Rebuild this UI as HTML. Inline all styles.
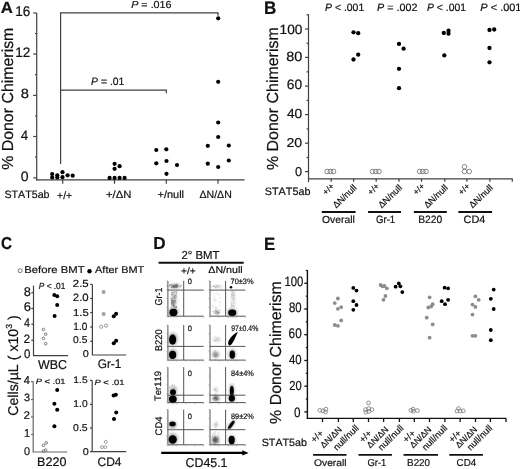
<!DOCTYPE html>
<html><head><meta charset="utf-8"><style>
html,body{margin:0;padding:0;background:#fff;}
svg{display:block;}
text{font-family:"Liberation Sans",sans-serif;font-kerning:none;text-rendering:geometricPrecision;stroke:#111;stroke-width:0.2px;}
svg{filter:grayscale(1) blur(0.3px);}
</style></head><body>
<svg width="520" height="469" viewBox="0 0 520 469">
<rect width="520" height="469" fill="#fff"/>
<text transform="translate(0.822,12.500) scale(1.0490,1.0111)" font-size="16" fill="#111" ><tspan font-weight="bold">A</tspan></text>
<line x1="36.7" y1="13" x2="36.7" y2="180.4" stroke="#404040" stroke-width="1.2"/>
<line x1="33.2" y1="13" x2="36.7" y2="13" stroke="#404040" stroke-width="1.2"/>
<line x1="33.2" y1="54" x2="36.7" y2="54" stroke="#404040" stroke-width="1.2"/>
<line x1="33.2" y1="95.4" x2="36.7" y2="95.4" stroke="#404040" stroke-width="1.2"/>
<line x1="33.2" y1="136.5" x2="36.7" y2="136.5" stroke="#404040" stroke-width="1.2"/>
<line x1="33.2" y1="177.9" x2="36.7" y2="177.9" stroke="#404040" stroke-width="1.2"/>
<line x1="35" y1="33.5" x2="36.7" y2="33.5" stroke="#404040" stroke-width="1.2"/>
<line x1="35" y1="74.7" x2="36.7" y2="74.7" stroke="#404040" stroke-width="1.2"/>
<line x1="35" y1="116" x2="36.7" y2="116" stroke="#404040" stroke-width="1.2"/>
<line x1="35" y1="157.2" x2="36.7" y2="157.2" stroke="#404040" stroke-width="1.2"/>
<text transform="translate(15.171,16.362) scale(1.0004,1.0462)" font-size="13.5" fill="#111" >16</text>
<text transform="translate(15.265,57.400) scale(1.0068,1.0184)" font-size="13.5" fill="#111" >12</text>
<text transform="translate(20.661,98.469) scale(1.0892,0.9939)" font-size="13.5" fill="#111" >8</text>
<text transform="translate(20.795,139.700) scale(0.9849,1.0013)" font-size="13.5" fill="#111" >4</text>
<text transform="translate(20.853,181.366) scale(1.0382,1.0148)" font-size="13.5" fill="#111" >0</text>
<text transform="translate(12.945,169.867) rotate(-90) scale(1.0005,1.0005)" font-size="15.9" fill="#111" >% Donor Chimerism</text>
<line x1="36.1" y1="179.8" x2="244.5" y2="179.8" stroke="#404040" stroke-width="1.2"/>
<line x1="62.7" y1="179.8" x2="62.7" y2="183.8" stroke="#404040" stroke-width="1.2"/>
<line x1="114.5" y1="179.8" x2="114.5" y2="183.8" stroke="#404040" stroke-width="1.2"/>
<line x1="166.3" y1="179.8" x2="166.3" y2="183.8" stroke="#404040" stroke-width="1.2"/>
<line x1="218" y1="179.8" x2="218" y2="183.8" stroke="#404040" stroke-width="1.2"/>
<line x1="60.6" y1="12.9" x2="60.6" y2="164" stroke="#404040" stroke-width="1.2"/>
<line x1="60" y1="12.9" x2="218.6" y2="12.9" stroke="#404040" stroke-width="1.2"/>
<line x1="218" y1="12.9" x2="218" y2="15.8" stroke="#404040" stroke-width="1.2"/>
<line x1="60.6" y1="90.2" x2="166.9" y2="90.2" stroke="#404040" stroke-width="1.2"/>
<line x1="166.3" y1="90.2" x2="166.3" y2="93.2" stroke="#404040" stroke-width="1.2"/>
<text transform="translate(131.169,8.401) scale(0.9787,0.9245)" font-size="11" fill="#111" ><tspan font-style="italic">P</tspan> = .016</text>
<text transform="translate(91.079,85.297) scale(0.9478,0.9630)" font-size="11" fill="#111" ><tspan font-style="italic">P</tspan> = .01</text>
<text transform="translate(4.415,198.296) scale(0.9713,0.9656)" font-size="11" fill="#111" >STAT5ab</text>
<text transform="translate(57.093,198.596) scale(0.9444,0.9656)" font-size="11" fill="#111" >+/+</text>
<text transform="translate(105.948,198.398) scale(1.0284,0.9532)" font-size="11" fill="#111" >+/ΔN</text>
<text transform="translate(157.464,198.398) scale(0.9988,0.9532)" font-size="11" fill="#111" >+/null</text>
<text transform="translate(199.486,198.398) scale(0.9594,0.9532)" font-size="11" fill="#111" >ΔN/ΔN</text>
<circle cx="52.2" cy="174" r="2.1" fill="#000"/>
<circle cx="52.2" cy="177.4" r="2.1" fill="#000"/>
<circle cx="57.3" cy="175.3" r="2.1" fill="#000"/>
<circle cx="57.3" cy="177.5" r="2.1" fill="#000"/>
<circle cx="62.5" cy="172.2" r="2.1" fill="#000"/>
<circle cx="62.5" cy="177.2" r="2.1" fill="#000"/>
<circle cx="67.6" cy="175.3" r="2.1" fill="#000"/>
<circle cx="72.7" cy="175.7" r="2.1" fill="#000"/>
<circle cx="114.6" cy="163.8" r="2.1" fill="#000"/>
<circle cx="119.6" cy="166.2" r="2.1" fill="#000"/>
<circle cx="114.6" cy="168.8" r="2.1" fill="#000"/>
<circle cx="109.6" cy="177.9" r="2.1" fill="#000"/>
<circle cx="114.6" cy="177.9" r="2.1" fill="#000"/>
<circle cx="119.6" cy="177.9" r="2.1" fill="#000"/>
<circle cx="124.6" cy="177.9" r="2.1" fill="#000"/>
<circle cx="156.3" cy="150" r="2.1" fill="#000"/>
<circle cx="166.3" cy="149.3" r="2.1" fill="#000"/>
<circle cx="156.3" cy="163.3" r="2.1" fill="#000"/>
<circle cx="166.5" cy="161" r="2.1" fill="#000"/>
<circle cx="177" cy="165" r="2.1" fill="#000"/>
<circle cx="166.5" cy="173.8" r="2.1" fill="#000"/>
<circle cx="218.2" cy="18.3" r="2.1" fill="#000"/>
<circle cx="218.2" cy="81.8" r="2.1" fill="#000"/>
<circle cx="218.2" cy="122.5" r="2.1" fill="#000"/>
<circle cx="218.2" cy="137" r="2.1" fill="#000"/>
<circle cx="207.8" cy="145.8" r="2.1" fill="#000"/>
<circle cx="228.8" cy="145.5" r="2.1" fill="#000"/>
<circle cx="207.8" cy="163.7" r="2.1" fill="#000"/>
<circle cx="218.2" cy="167" r="2.1" fill="#000"/>
<circle cx="228.8" cy="160.5" r="2.1" fill="#000"/>
<text transform="translate(264.059,13.600) scale(1.0658,1.1310)" font-size="16" fill="#111" ><tspan font-weight="bold">B</tspan></text>
<line x1="308.5" y1="14.3" x2="308.5" y2="182.2" stroke="#404040" stroke-width="1.2"/>
<line x1="305" y1="29.0" x2="308.5" y2="29.0" stroke="#404040" stroke-width="1.2"/>
<line x1="305" y1="57.4" x2="308.5" y2="57.4" stroke="#404040" stroke-width="1.2"/>
<line x1="305" y1="86.1" x2="308.5" y2="86.1" stroke="#404040" stroke-width="1.2"/>
<line x1="305" y1="114.6" x2="308.5" y2="114.6" stroke="#404040" stroke-width="1.2"/>
<line x1="305" y1="143.2" x2="308.5" y2="143.2" stroke="#404040" stroke-width="1.2"/>
<line x1="305" y1="171.6" x2="308.5" y2="171.6" stroke="#404040" stroke-width="1.2"/>
<line x1="306.6" y1="14.719999999999999" x2="308.5" y2="14.719999999999999" stroke="#404040" stroke-width="1.2"/>
<line x1="306.6" y1="43.28" x2="308.5" y2="43.28" stroke="#404040" stroke-width="1.2"/>
<line x1="306.6" y1="71.84000000000002" x2="308.5" y2="71.84000000000002" stroke="#404040" stroke-width="1.2"/>
<line x1="306.6" y1="100.4" x2="308.5" y2="100.4" stroke="#404040" stroke-width="1.2"/>
<line x1="306.6" y1="128.96" x2="308.5" y2="128.96" stroke="#404040" stroke-width="1.2"/>
<line x1="306.6" y1="157.52" x2="308.5" y2="157.52" stroke="#404040" stroke-width="1.2"/>
<text transform="translate(279.560,34.469) scale(0.9963,0.9794)" font-size="13.7" fill="#111" >100</text>
<text transform="translate(286.271,60.569) scale(1.0561,0.9794)" font-size="13.7" fill="#111" >80</text>
<text transform="translate(286.800,89.266) scale(1.0066,1.0000)" font-size="13.7" fill="#111" >60</text>
<text transform="translate(286.885,118.070) scale(1.0008,0.9691)" font-size="13.7" fill="#111" >40</text>
<text transform="translate(286.487,146.874) scale(1.0346,0.9382)" font-size="13.7" fill="#111" >20</text>
<text transform="translate(295.102,175.774) scale(0.9314,0.9382)" font-size="13.7" fill="#111" >0</text>
<text transform="translate(278.144,170.069) rotate(-90) scale(0.9978,0.9978)" font-size="16" fill="#111" >% Donor Chimerism</text>
<line x1="308" y1="178.8" x2="512.5" y2="178.8" stroke="#404040" stroke-width="1.2"/>
<line x1="331.2" y1="178.8" x2="331.2" y2="181.8" stroke="#404040" stroke-width="1.2"/>
<line x1="353.6" y1="178.8" x2="353.6" y2="181.8" stroke="#404040" stroke-width="1.2"/>
<line x1="376.2" y1="178.8" x2="376.2" y2="181.8" stroke="#404040" stroke-width="1.2"/>
<line x1="399" y1="178.8" x2="399" y2="181.8" stroke="#404040" stroke-width="1.2"/>
<line x1="421.5" y1="178.8" x2="421.5" y2="181.8" stroke="#404040" stroke-width="1.2"/>
<line x1="444.8" y1="178.8" x2="444.8" y2="181.8" stroke="#404040" stroke-width="1.2"/>
<line x1="466.9" y1="178.8" x2="466.9" y2="181.8" stroke="#404040" stroke-width="1.2"/>
<line x1="489.9" y1="178.8" x2="489.9" y2="181.8" stroke="#404040" stroke-width="1.2"/>
<line x1="512.3" y1="178.8" x2="512.3" y2="181.8" stroke="#404040" stroke-width="1.2"/>
<text transform="translate(325.079,10.795) scale(0.9479,0.9758)" font-size="11" fill="#111" ><tspan font-style="italic">P</tspan> &lt; .001</text>
<text transform="translate(377.069,10.795) scale(0.9779,0.9758)" font-size="11" fill="#111" ><tspan font-style="italic">P</tspan> = .002</text>
<text transform="translate(426.980,10.795) scale(0.9454,0.9758)" font-size="11" fill="#111" ><tspan font-style="italic">P</tspan> &lt; .001</text>
<text transform="translate(480.363,10.795) scale(0.9949,0.9758)" font-size="11" fill="#111" ><tspan font-style="italic">P</tspan> &lt; .001</text>
<text transform="translate(264.809,195.095) scale(0.9823,0.9779)" font-size="11" fill="#111" >STAT5ab</text>
<text transform="translate(334.900,186.700) rotate(-45)" font-size="8.6" text-anchor="end" fill="#111" >+/+</text>
<text transform="translate(357.200,188.400) rotate(-44)" font-size="9.0" text-anchor="end" fill="#111" >ΔN/null</text>
<text transform="translate(379.900,186.700) rotate(-45)" font-size="8.6" text-anchor="end" fill="#111" >+/+</text>
<text transform="translate(402.600,188.400) rotate(-44)" font-size="9.0" text-anchor="end" fill="#111" >ΔN/null</text>
<text transform="translate(425.200,186.700) rotate(-45)" font-size="8.6" text-anchor="end" fill="#111" >+/+</text>
<text transform="translate(448.400,188.400) rotate(-44)" font-size="9.0" text-anchor="end" fill="#111" >ΔN/null</text>
<text transform="translate(470.600,186.700) rotate(-45)" font-size="8.6" text-anchor="end" fill="#111" >+/+</text>
<text transform="translate(493.500,188.400) rotate(-44)" font-size="9.0" text-anchor="end" fill="#111" >ΔN/null</text>
<line x1="321.8" y1="212" x2="355.6" y2="212" stroke="#111" stroke-width="1.9"/>
<text transform="translate(321.908,223.400) scale(1.0080,0.9915)" font-size="10.3" fill="#111" >Overall</text>
<line x1="368.1" y1="212" x2="401" y2="212" stroke="#111" stroke-width="1.9"/>
<text transform="translate(376.018,223.397) scale(0.9296,1.0285)" font-size="10.3" fill="#111" >Gr-1</text>
<line x1="413.9" y1="212" x2="446.8" y2="212" stroke="#111" stroke-width="1.9"/>
<text transform="translate(418.255,223.397) scale(0.9997,1.0285)" font-size="10.3" fill="#111" >B220</text>
<line x1="458.4" y1="212" x2="492.1" y2="212" stroke="#111" stroke-width="1.9"/>
<text transform="translate(463.547,223.397) scale(1.0566,1.0285)" font-size="10.3" fill="#111" >CD4</text>
<circle cx="353.5" cy="32.3" r="2.15" fill="#000"/>
<circle cx="358.2" cy="33.2" r="2.15" fill="#000"/>
<circle cx="358.2" cy="54.7" r="2.15" fill="#000"/>
<circle cx="353.5" cy="59.5" r="2.15" fill="#000"/>
<circle cx="399" cy="43.9" r="2.15" fill="#000"/>
<circle cx="403.6" cy="48.7" r="2.15" fill="#000"/>
<circle cx="399" cy="68.8" r="2.15" fill="#000"/>
<circle cx="399" cy="88.2" r="2.15" fill="#000"/>
<circle cx="443.8" cy="33" r="2.15" fill="#000"/>
<circle cx="448.5" cy="30.7" r="2.15" fill="#000"/>
<circle cx="448.5" cy="33.7" r="2.15" fill="#000"/>
<circle cx="444.3" cy="55.4" r="2.15" fill="#000"/>
<circle cx="489.5" cy="30" r="2.15" fill="#000"/>
<circle cx="494.2" cy="29.5" r="2.15" fill="#000"/>
<circle cx="489.5" cy="48" r="2.15" fill="#000"/>
<circle cx="489.5" cy="62.3" r="2.15" fill="#000"/>
<circle cx="327.1" cy="171.5" r="2.3" fill="none" stroke="#777" stroke-width="0.9"/>
<circle cx="330.3" cy="171.5" r="2.3" fill="none" stroke="#777" stroke-width="0.9"/>
<circle cx="333.5" cy="171.5" r="2.3" fill="none" stroke="#777" stroke-width="0.9"/>
<circle cx="372.6" cy="171.5" r="2.3" fill="none" stroke="#777" stroke-width="0.9"/>
<circle cx="375.8" cy="171.5" r="2.3" fill="none" stroke="#777" stroke-width="0.9"/>
<circle cx="379.0" cy="171.5" r="2.3" fill="none" stroke="#777" stroke-width="0.9"/>
<circle cx="419.6" cy="171.5" r="2.3" fill="none" stroke="#777" stroke-width="0.9"/>
<circle cx="422.8" cy="171.5" r="2.3" fill="none" stroke="#777" stroke-width="0.9"/>
<circle cx="426.0" cy="171.5" r="2.3" fill="none" stroke="#777" stroke-width="0.9"/>
<circle cx="464.5" cy="166.8" r="2.3" fill="none" stroke="#777" stroke-width="0.9"/>
<circle cx="464.5" cy="171.5" r="2.3" fill="none" stroke="#777" stroke-width="0.9"/>
<circle cx="469.2" cy="171.5" r="2.3" fill="none" stroke="#777" stroke-width="0.9"/>
<text transform="translate(0.973,249.132) scale(0.9559,1.0770)" font-size="16" fill="#111" ><tspan font-weight="bold">C</tspan></text>
<circle cx="20.15" cy="270.7" r="2.0" fill="none" stroke="#777" stroke-width="1.0"/>
<text transform="translate(24.273,273.403) scale(1.0661,0.9390)" font-size="10.6" fill="#111" >Before BMT</text>
<circle cx="89.5" cy="271.2" r="2.2" fill="#000"/>
<text transform="translate(95.079,273.104) scale(1.0307,0.9262)" font-size="10.6" fill="#111" >After BMT</text>
<line x1="33.5" y1="285.6" x2="33.5" y2="355.6" stroke="#404040" stroke-width="1.2"/>
<line x1="33.0" y1="355.6" x2="67.9" y2="355.6" stroke="#404040" stroke-width="1.2"/>
<line x1="31.3" y1="292.7" x2="33.5" y2="292.7" stroke="#404040" stroke-width="1.2"/>
<line x1="31.3" y1="308.5" x2="33.5" y2="308.5" stroke="#404040" stroke-width="1.2"/>
<line x1="31.3" y1="324.2" x2="33.5" y2="324.2" stroke="#404040" stroke-width="1.2"/>
<line x1="31.3" y1="340.2" x2="33.5" y2="340.2" stroke="#404040" stroke-width="1.2"/>
<text transform="translate(23.744,295.576) scale(1.0068,1.0009)" font-size="12.7" fill="#111" >8</text>
<text transform="translate(23.640,311.376) scale(1.0239,1.0009)" font-size="12.7" fill="#111" >6</text>
<text transform="translate(23.953,327.275) scale(0.8487,0.9899)" font-size="12.7" fill="#111" >4</text>
<text transform="translate(23.604,343.000) scale(0.9333,0.9473)" font-size="12.7" fill="#111" >2</text>
<text transform="translate(24.051,358.179) scale(0.9060,0.9787)" font-size="12.7" fill="#111" >0</text>
<text transform="translate(38.045,368.574) scale(1.0034,1.0365)" font-size="12.4" fill="#111" >WBC</text>
<text transform="translate(38.845,289.313) scale(0.8996,0.9672)" font-size="9.2" fill="#111" ><tspan font-style="italic">P</tspan> &lt; .01</text>
<circle cx="54.3" cy="295.1" r="2.0" fill="#000"/>
<circle cx="57.2" cy="296.2" r="2.0" fill="#000"/>
<circle cx="57.2" cy="304.9" r="2.0" fill="#000"/>
<circle cx="54.6" cy="316.1" r="2.0" fill="#000"/>
<circle cx="43.4" cy="329.5" r="1.3" fill="none" stroke="#777" stroke-width="1.0"/>
<circle cx="45.7" cy="334.2" r="1.3" fill="none" stroke="#777" stroke-width="1.0"/>
<circle cx="43.4" cy="338.3" r="1.3" fill="none" stroke="#777" stroke-width="1.0"/>
<circle cx="45.7" cy="343.7" r="1.3" fill="none" stroke="#777" stroke-width="1.0"/>
<line x1="92.4" y1="284.4" x2="92.4" y2="355" stroke="#404040" stroke-width="1.2"/>
<line x1="91.9" y1="355" x2="126.2" y2="355" stroke="#404040" stroke-width="1.2"/>
<line x1="90.2" y1="284.4" x2="92.4" y2="284.4" stroke="#404040" stroke-width="1.2"/>
<line x1="90.2" y1="298.5" x2="92.4" y2="298.5" stroke="#404040" stroke-width="1.2"/>
<line x1="90.2" y1="312.6" x2="92.4" y2="312.6" stroke="#404040" stroke-width="1.2"/>
<line x1="90.2" y1="327" x2="92.4" y2="327" stroke="#404040" stroke-width="1.2"/>
<line x1="90.2" y1="341.3" x2="92.4" y2="341.3" stroke="#404040" stroke-width="1.2"/>
<text transform="translate(72.826,286.799) scale(1.0559,0.9547)" font-size="10.8" fill="#111" >2.5</text>
<text transform="translate(72.828,301.097) scale(1.0535,0.9808)" font-size="10.8" fill="#111" >2.0</text>
<text transform="translate(72.938,315.602) scale(1.0482,0.9289)" font-size="10.8" fill="#111" >1.5</text>
<text transform="translate(73.335,329.697) scale(0.9296,0.9808)" font-size="10.8" fill="#111" >1.0</text>
<text transform="translate(73.100,343.103) scale(0.9478,0.9155)" font-size="10.8" fill="#111" >0.5</text>
<text transform="translate(82.675,357.403) scale(1.0072,0.9155)" font-size="10.8" fill="#111" >0</text>
<text transform="translate(97.705,368.477) scale(0.9702,1.0304)" font-size="12.2" fill="#111" >Gr-1</text>
<circle cx="103.6" cy="291.9" r="2.0" fill="#a0a0a0"/>
<circle cx="103.6" cy="313.9" r="2.0" fill="#a0a0a0"/>
<circle cx="101.25" cy="326.7" r="1.6" fill="none" stroke="#8a8a8a" stroke-width="0.9"/>
<circle cx="106.1" cy="325.6" r="1.6" fill="none" stroke="#8a8a8a" stroke-width="0.9"/>
<circle cx="116.1" cy="313.75" r="2.0" fill="#000"/>
<circle cx="113.75" cy="316.25" r="2.0" fill="#000"/>
<circle cx="116.1" cy="340.8" r="2.0" fill="#000"/>
<circle cx="113.75" cy="343.3" r="2.0" fill="#000"/>
<line x1="33.2" y1="381.6" x2="33.2" y2="452" stroke="#666" stroke-width="1.2"/>
<line x1="32.7" y1="452" x2="67.3" y2="452" stroke="#666" stroke-width="1.2"/>
<line x1="31.000000000000004" y1="381.6" x2="33.2" y2="381.6" stroke="#666" stroke-width="1.2"/>
<line x1="31.000000000000004" y1="399.5" x2="33.2" y2="399.5" stroke="#666" stroke-width="1.2"/>
<line x1="31.000000000000004" y1="417" x2="33.2" y2="417" stroke="#666" stroke-width="1.2"/>
<line x1="31.000000000000004" y1="434.5" x2="33.2" y2="434.5" stroke="#666" stroke-width="1.2"/>
<text transform="translate(23.645,384.400) scale(0.9835,1.0162)" font-size="11.3" fill="#111" >4</text>
<text transform="translate(23.990,401.397) scale(0.9519,0.9374)" font-size="11.3" fill="#111" >3</text>
<text transform="translate(23.615,419.200) scale(1.0295,0.9886)" font-size="11.3" fill="#111" >2</text>
<text transform="translate(23.970,436.900) scale(0.9647,1.0162)" font-size="11.3" fill="#111" >1</text>
<text transform="translate(23.875,454.891) scale(0.9627,0.9874)" font-size="11.3" fill="#111" >0</text>
<text transform="translate(37.070,465.779) scale(1.0125,1.0024)" font-size="12.4" fill="#111" >B220</text>
<text transform="translate(35.814,384.226) scale(1.0112,0.8290)" font-size="9.2" fill="#111" ><tspan font-style="italic">P</tspan> &lt; .01</text>
<circle cx="57.2" cy="390" r="2.0" fill="#000"/>
<circle cx="54.4" cy="403.8" r="2.0" fill="#000"/>
<circle cx="57.2" cy="409.7" r="2.0" fill="#000"/>
<circle cx="54.4" cy="426.2" r="2.0" fill="#000"/>
<circle cx="43.5" cy="445.4" r="1.3" fill="none" stroke="#777" stroke-width="1.0"/>
<circle cx="46.2" cy="442.8" r="1.3" fill="none" stroke="#777" stroke-width="1.0"/>
<circle cx="43.5" cy="451.1" r="1.3" fill="none" stroke="#777" stroke-width="1.0"/>
<circle cx="45.6" cy="450.1" r="1.3" fill="none" stroke="#777" stroke-width="1.0"/>
<line x1="92.2" y1="380.4" x2="92.2" y2="451.6" stroke="#404040" stroke-width="1.2"/>
<line x1="91.7" y1="451.6" x2="126.3" y2="451.6" stroke="#404040" stroke-width="1.2"/>
<line x1="90.0" y1="380.4" x2="92.2" y2="380.4" stroke="#404040" stroke-width="1.2"/>
<line x1="90.0" y1="404.4" x2="92.2" y2="404.4" stroke="#404040" stroke-width="1.2"/>
<line x1="90.0" y1="428" x2="92.2" y2="428" stroke="#404040" stroke-width="1.2"/>
<line x1="90.0" y1="451.6" x2="92.2" y2="451.6" stroke="#404040" stroke-width="1.2"/>
<text transform="translate(73.316,383.409) scale(0.9809,0.8872)" font-size="10.5" fill="#111" >1.5</text>
<text transform="translate(73.317,407.203) scale(0.9786,0.9416)" font-size="10.5" fill="#111" >1.0</text>
<text transform="translate(73.091,430.903) scale(0.9967,0.9416)" font-size="10.5" fill="#111" >0.5</text>
<text transform="translate(82.675,454.503) scale(1.0360,0.9416)" font-size="10.5" fill="#111" >0</text>
<text transform="translate(97.492,465.580) scale(0.9817,1.0072)" font-size="12.2" fill="#111" >CD4</text>
<text transform="translate(94.512,384.526) scale(1.0182,0.8290)" font-size="9.2" fill="#111" ><tspan font-style="italic">P</tspan> &lt; .01</text>
<circle cx="113.6" cy="395.5" r="2.0" fill="#000"/>
<circle cx="115.9" cy="394.7" r="2.0" fill="#000"/>
<circle cx="116.2" cy="412.5" r="2.0" fill="#000"/>
<circle cx="114" cy="418.9" r="2.0" fill="#000"/>
<circle cx="102" cy="447.1" r="1.5" fill="none" stroke="#8a8a8a" stroke-width="0.8"/>
<circle cx="105.3" cy="447.1" r="1.5" fill="none" stroke="#8a8a8a" stroke-width="0.8"/>
<circle cx="105.8" cy="441.9" r="1.5" fill="none" stroke="#8a8a8a" stroke-width="0.8"/>
<text transform="translate(17.584,415.821) rotate(-90) scale(1.0445,1.0445)" font-size="13.6" fill="#111" >Cells/µL ( x10<tspan font-size="8.432" dy="-5.712">3</tspan><tspan dy="5.712"> )</tspan></text>
<text transform="translate(153.155,249.300) scale(1.0701,1.0901)" font-size="16" fill="#111" ><tspan font-weight="bold">D</tspan></text>
<text transform="translate(181.430,259.000) scale(1.0036,1.0266)" font-size="11.3" fill="#111" >2° BMT</text>
<line x1="158.6" y1="262.7" x2="243.7" y2="262.7" stroke="#111" stroke-width="2"/>
<text transform="translate(181.104,273.708) scale(1.0166,0.9396)" font-size="10" fill="#111" >+/+</text>
<text transform="translate(208.283,273.406) scale(1.0646,0.9668)" font-size="10" fill="#111" >ΔN/null</text>
<line x1="167.9" y1="280.9" x2="167.9" y2="316.2" stroke="#555" stroke-width="1.0"/>
<line x1="167.9" y1="316.2" x2="203.7" y2="316.2" stroke="#555" stroke-width="1.0"/>
<line x1="183.7" y1="280.9" x2="183.7" y2="316.2" stroke="#555" stroke-width="1.0"/>
<line x1="167.4" y1="290.1" x2="203.7" y2="290.1" stroke="#555" stroke-width="1.0"/>
<line x1="167.9" y1="316.2" x2="167.9" y2="317.8" stroke="#999" stroke-width="0.6"/>
<line x1="166.3" y1="316.2" x2="167.9" y2="316.2" stroke="#999" stroke-width="0.6"/>
<line x1="176.85" y1="316.2" x2="176.85" y2="317.8" stroke="#999" stroke-width="0.6"/>
<line x1="166.3" y1="307.375" x2="167.9" y2="307.375" stroke="#999" stroke-width="0.6"/>
<line x1="185.8" y1="316.2" x2="185.8" y2="317.8" stroke="#999" stroke-width="0.6"/>
<line x1="166.3" y1="298.54999999999995" x2="167.9" y2="298.54999999999995" stroke="#999" stroke-width="0.6"/>
<line x1="194.75" y1="316.2" x2="194.75" y2="317.8" stroke="#999" stroke-width="0.6"/>
<line x1="166.3" y1="289.72499999999997" x2="167.9" y2="289.72499999999997" stroke="#999" stroke-width="0.6"/>
<line x1="203.7" y1="316.2" x2="203.7" y2="317.8" stroke="#999" stroke-width="0.6"/>
<line x1="166.3" y1="280.9" x2="167.9" y2="280.9" stroke="#999" stroke-width="0.6"/>
<line x1="210.0" y1="280.9" x2="210.0" y2="316.2" stroke="#555" stroke-width="1.0"/>
<line x1="210.0" y1="316.2" x2="245.5" y2="316.2" stroke="#555" stroke-width="1.0"/>
<line x1="225.6" y1="280.9" x2="225.6" y2="316.2" stroke="#555" stroke-width="1.0"/>
<line x1="209.5" y1="290.1" x2="245.5" y2="290.1" stroke="#555" stroke-width="1.0"/>
<line x1="210.0" y1="316.2" x2="210.0" y2="317.8" stroke="#999" stroke-width="0.6"/>
<line x1="208.4" y1="316.2" x2="210.0" y2="316.2" stroke="#999" stroke-width="0.6"/>
<line x1="218.875" y1="316.2" x2="218.875" y2="317.8" stroke="#999" stroke-width="0.6"/>
<line x1="208.4" y1="307.375" x2="210.0" y2="307.375" stroke="#999" stroke-width="0.6"/>
<line x1="227.75" y1="316.2" x2="227.75" y2="317.8" stroke="#999" stroke-width="0.6"/>
<line x1="208.4" y1="298.54999999999995" x2="210.0" y2="298.54999999999995" stroke="#999" stroke-width="0.6"/>
<line x1="236.625" y1="316.2" x2="236.625" y2="317.8" stroke="#999" stroke-width="0.6"/>
<line x1="208.4" y1="289.72499999999997" x2="210.0" y2="289.72499999999997" stroke="#999" stroke-width="0.6"/>
<line x1="245.5" y1="316.2" x2="245.5" y2="317.8" stroke="#999" stroke-width="0.6"/>
<line x1="208.4" y1="280.9" x2="210.0" y2="280.9" stroke="#999" stroke-width="0.6"/>
<line x1="167.9" y1="325.0" x2="167.9" y2="360.1" stroke="#555" stroke-width="1.0"/>
<line x1="167.9" y1="360.1" x2="203.7" y2="360.1" stroke="#555" stroke-width="1.0"/>
<line x1="183.7" y1="325.0" x2="183.7" y2="360.1" stroke="#555" stroke-width="1.0"/>
<line x1="167.4" y1="346.4" x2="203.7" y2="346.4" stroke="#555" stroke-width="1.0"/>
<line x1="167.9" y1="360.1" x2="167.9" y2="361.70000000000005" stroke="#999" stroke-width="0.6"/>
<line x1="166.3" y1="360.1" x2="167.9" y2="360.1" stroke="#999" stroke-width="0.6"/>
<line x1="176.85" y1="360.1" x2="176.85" y2="361.70000000000005" stroke="#999" stroke-width="0.6"/>
<line x1="166.3" y1="351.32500000000005" x2="167.9" y2="351.32500000000005" stroke="#999" stroke-width="0.6"/>
<line x1="185.8" y1="360.1" x2="185.8" y2="361.70000000000005" stroke="#999" stroke-width="0.6"/>
<line x1="166.3" y1="342.55" x2="167.9" y2="342.55" stroke="#999" stroke-width="0.6"/>
<line x1="194.75" y1="360.1" x2="194.75" y2="361.70000000000005" stroke="#999" stroke-width="0.6"/>
<line x1="166.3" y1="333.775" x2="167.9" y2="333.775" stroke="#999" stroke-width="0.6"/>
<line x1="203.7" y1="360.1" x2="203.7" y2="361.70000000000005" stroke="#999" stroke-width="0.6"/>
<line x1="166.3" y1="325.0" x2="167.9" y2="325.0" stroke="#999" stroke-width="0.6"/>
<line x1="210.0" y1="325.0" x2="210.0" y2="360.1" stroke="#555" stroke-width="1.0"/>
<line x1="210.0" y1="360.1" x2="245.5" y2="360.1" stroke="#555" stroke-width="1.0"/>
<line x1="225.6" y1="325.0" x2="225.6" y2="360.1" stroke="#555" stroke-width="1.0"/>
<line x1="209.5" y1="346.4" x2="245.5" y2="346.4" stroke="#555" stroke-width="1.0"/>
<line x1="210.0" y1="360.1" x2="210.0" y2="361.70000000000005" stroke="#999" stroke-width="0.6"/>
<line x1="208.4" y1="360.1" x2="210.0" y2="360.1" stroke="#999" stroke-width="0.6"/>
<line x1="218.875" y1="360.1" x2="218.875" y2="361.70000000000005" stroke="#999" stroke-width="0.6"/>
<line x1="208.4" y1="351.32500000000005" x2="210.0" y2="351.32500000000005" stroke="#999" stroke-width="0.6"/>
<line x1="227.75" y1="360.1" x2="227.75" y2="361.70000000000005" stroke="#999" stroke-width="0.6"/>
<line x1="208.4" y1="342.55" x2="210.0" y2="342.55" stroke="#999" stroke-width="0.6"/>
<line x1="236.625" y1="360.1" x2="236.625" y2="361.70000000000005" stroke="#999" stroke-width="0.6"/>
<line x1="208.4" y1="333.775" x2="210.0" y2="333.775" stroke="#999" stroke-width="0.6"/>
<line x1="245.5" y1="360.1" x2="245.5" y2="361.70000000000005" stroke="#999" stroke-width="0.6"/>
<line x1="208.4" y1="325.0" x2="210.0" y2="325.0" stroke="#999" stroke-width="0.6"/>
<line x1="167.9" y1="367.2" x2="167.9" y2="402.6" stroke="#555" stroke-width="1.0"/>
<line x1="167.9" y1="402.6" x2="203.7" y2="402.6" stroke="#555" stroke-width="1.0"/>
<line x1="183.7" y1="367.2" x2="183.7" y2="402.6" stroke="#555" stroke-width="1.0"/>
<line x1="167.4" y1="395.2" x2="203.7" y2="395.2" stroke="#555" stroke-width="1.0"/>
<line x1="167.9" y1="402.6" x2="167.9" y2="404.20000000000005" stroke="#999" stroke-width="0.6"/>
<line x1="166.3" y1="402.6" x2="167.9" y2="402.6" stroke="#999" stroke-width="0.6"/>
<line x1="176.85" y1="402.6" x2="176.85" y2="404.20000000000005" stroke="#999" stroke-width="0.6"/>
<line x1="166.3" y1="393.75" x2="167.9" y2="393.75" stroke="#999" stroke-width="0.6"/>
<line x1="185.8" y1="402.6" x2="185.8" y2="404.20000000000005" stroke="#999" stroke-width="0.6"/>
<line x1="166.3" y1="384.9" x2="167.9" y2="384.9" stroke="#999" stroke-width="0.6"/>
<line x1="194.75" y1="402.6" x2="194.75" y2="404.20000000000005" stroke="#999" stroke-width="0.6"/>
<line x1="166.3" y1="376.05" x2="167.9" y2="376.05" stroke="#999" stroke-width="0.6"/>
<line x1="203.7" y1="402.6" x2="203.7" y2="404.20000000000005" stroke="#999" stroke-width="0.6"/>
<line x1="166.3" y1="367.2" x2="167.9" y2="367.2" stroke="#999" stroke-width="0.6"/>
<line x1="210.0" y1="367.2" x2="210.0" y2="402.6" stroke="#555" stroke-width="1.0"/>
<line x1="210.0" y1="402.6" x2="245.5" y2="402.6" stroke="#555" stroke-width="1.0"/>
<line x1="225.6" y1="367.2" x2="225.6" y2="402.6" stroke="#555" stroke-width="1.0"/>
<line x1="209.5" y1="395.2" x2="245.5" y2="395.2" stroke="#555" stroke-width="1.0"/>
<line x1="210.0" y1="402.6" x2="210.0" y2="404.20000000000005" stroke="#999" stroke-width="0.6"/>
<line x1="208.4" y1="402.6" x2="210.0" y2="402.6" stroke="#999" stroke-width="0.6"/>
<line x1="218.875" y1="402.6" x2="218.875" y2="404.20000000000005" stroke="#999" stroke-width="0.6"/>
<line x1="208.4" y1="393.75" x2="210.0" y2="393.75" stroke="#999" stroke-width="0.6"/>
<line x1="227.75" y1="402.6" x2="227.75" y2="404.20000000000005" stroke="#999" stroke-width="0.6"/>
<line x1="208.4" y1="384.9" x2="210.0" y2="384.9" stroke="#999" stroke-width="0.6"/>
<line x1="236.625" y1="402.6" x2="236.625" y2="404.20000000000005" stroke="#999" stroke-width="0.6"/>
<line x1="208.4" y1="376.05" x2="210.0" y2="376.05" stroke="#999" stroke-width="0.6"/>
<line x1="245.5" y1="402.6" x2="245.5" y2="404.20000000000005" stroke="#999" stroke-width="0.6"/>
<line x1="208.4" y1="367.2" x2="210.0" y2="367.2" stroke="#999" stroke-width="0.6"/>
<line x1="167.9" y1="409.6" x2="167.9" y2="444.8" stroke="#555" stroke-width="1.0"/>
<line x1="167.9" y1="444.8" x2="203.7" y2="444.8" stroke="#555" stroke-width="1.0"/>
<line x1="183.7" y1="409.6" x2="183.7" y2="444.8" stroke="#555" stroke-width="1.0"/>
<line x1="167.4" y1="429.7" x2="203.7" y2="429.7" stroke="#555" stroke-width="1.0"/>
<line x1="167.9" y1="444.8" x2="167.9" y2="446.40000000000003" stroke="#999" stroke-width="0.6"/>
<line x1="166.3" y1="444.8" x2="167.9" y2="444.8" stroke="#999" stroke-width="0.6"/>
<line x1="176.85" y1="444.8" x2="176.85" y2="446.40000000000003" stroke="#999" stroke-width="0.6"/>
<line x1="166.3" y1="436.0" x2="167.9" y2="436.0" stroke="#999" stroke-width="0.6"/>
<line x1="185.8" y1="444.8" x2="185.8" y2="446.40000000000003" stroke="#999" stroke-width="0.6"/>
<line x1="166.3" y1="427.20000000000005" x2="167.9" y2="427.20000000000005" stroke="#999" stroke-width="0.6"/>
<line x1="194.75" y1="444.8" x2="194.75" y2="446.40000000000003" stroke="#999" stroke-width="0.6"/>
<line x1="166.3" y1="418.40000000000003" x2="167.9" y2="418.40000000000003" stroke="#999" stroke-width="0.6"/>
<line x1="203.7" y1="444.8" x2="203.7" y2="446.40000000000003" stroke="#999" stroke-width="0.6"/>
<line x1="166.3" y1="409.6" x2="167.9" y2="409.6" stroke="#999" stroke-width="0.6"/>
<line x1="210.0" y1="409.6" x2="210.0" y2="444.8" stroke="#555" stroke-width="1.0"/>
<line x1="210.0" y1="444.8" x2="245.5" y2="444.8" stroke="#555" stroke-width="1.0"/>
<line x1="225.6" y1="409.6" x2="225.6" y2="444.8" stroke="#555" stroke-width="1.0"/>
<line x1="209.5" y1="429.7" x2="245.5" y2="429.7" stroke="#555" stroke-width="1.0"/>
<line x1="210.0" y1="444.8" x2="210.0" y2="446.40000000000003" stroke="#999" stroke-width="0.6"/>
<line x1="208.4" y1="444.8" x2="210.0" y2="444.8" stroke="#999" stroke-width="0.6"/>
<line x1="218.875" y1="444.8" x2="218.875" y2="446.40000000000003" stroke="#999" stroke-width="0.6"/>
<line x1="208.4" y1="436.0" x2="210.0" y2="436.0" stroke="#999" stroke-width="0.6"/>
<line x1="227.75" y1="444.8" x2="227.75" y2="446.40000000000003" stroke="#999" stroke-width="0.6"/>
<line x1="208.4" y1="427.20000000000005" x2="210.0" y2="427.20000000000005" stroke="#999" stroke-width="0.6"/>
<line x1="236.625" y1="444.8" x2="236.625" y2="446.40000000000003" stroke="#999" stroke-width="0.6"/>
<line x1="208.4" y1="418.40000000000003" x2="210.0" y2="418.40000000000003" stroke="#999" stroke-width="0.6"/>
<line x1="245.5" y1="444.8" x2="245.5" y2="446.40000000000003" stroke="#999" stroke-width="0.6"/>
<line x1="208.4" y1="409.6" x2="210.0" y2="409.6" stroke="#999" stroke-width="0.6"/>
<defs><filter id="bl" x="-50%" y="-50%" width="200%" height="200%"><feGaussianBlur stdDeviation="0.7"/></filter><filter id="bl2" x="-50%" y="-50%" width="200%" height="200%"><feGaussianBlur stdDeviation="1.4"/></filter></defs>
<ellipse cx="174" cy="299" rx="2.60" ry="9.00" fill="#bbb" opacity="0.9" filter="url(#bl2)" transform="rotate(0 174 299)"/>
<g fill="#555" opacity="0.6"><circle cx="173.08" cy="293.22" r="0.5"/><circle cx="174.88" cy="291.80" r="0.5"/><circle cx="174.25" cy="297.08" r="0.5"/><circle cx="171.62" cy="299.63" r="0.5"/><circle cx="171.51" cy="298.31" r="0.5"/><circle cx="171.68" cy="292.13" r="0.5"/><circle cx="173.63" cy="305.38" r="0.5"/><circle cx="171.98" cy="294.52" r="0.5"/><circle cx="174.75" cy="307.56" r="0.5"/><circle cx="174.47" cy="297.64" r="0.5"/><circle cx="176.67" cy="291.34" r="0.5"/><circle cx="176.02" cy="295.71" r="0.5"/><circle cx="172.09" cy="292.62" r="0.5"/><circle cx="173.00" cy="305.19" r="0.5"/><circle cx="172.29" cy="300.97" r="0.5"/><circle cx="174.81" cy="297.20" r="0.5"/><circle cx="174.31" cy="291.63" r="0.5"/><circle cx="171.63" cy="294.21" r="0.5"/><circle cx="175.04" cy="298.20" r="0.5"/><circle cx="173.03" cy="301.04" r="0.5"/><circle cx="173.79" cy="295.90" r="0.5"/><circle cx="175.67" cy="303.08" r="0.5"/><circle cx="172.64" cy="300.84" r="0.5"/><circle cx="174.19" cy="306.25" r="0.5"/><circle cx="175.31" cy="295.68" r="0.5"/><circle cx="176.69" cy="292.63" r="0.5"/><circle cx="173.60" cy="304.13" r="0.5"/><circle cx="172.14" cy="299.30" r="0.5"/><circle cx="171.52" cy="302.53" r="0.5"/><circle cx="175.51" cy="300.81" r="0.5"/><circle cx="176.12" cy="296.15" r="0.5"/><circle cx="175.12" cy="301.20" r="0.5"/><circle cx="174.49" cy="298.71" r="0.5"/><circle cx="175.92" cy="307.50" r="0.5"/><circle cx="173.91" cy="302.45" r="0.5"/><circle cx="171.63" cy="303.13" r="0.5"/><circle cx="174.86" cy="308.38" r="0.5"/><circle cx="175.82" cy="295.62" r="0.5"/><circle cx="173.42" cy="302.54" r="0.5"/><circle cx="171.42" cy="298.81" r="0.5"/><circle cx="172.22" cy="292.61" r="0.5"/><circle cx="171.62" cy="304.33" r="0.5"/><circle cx="172.01" cy="294.96" r="0.5"/><circle cx="173.45" cy="306.19" r="0.5"/><circle cx="171.74" cy="298.59" r="0.5"/><circle cx="174.32" cy="306.40" r="0.5"/><circle cx="175.81" cy="306.05" r="0.5"/><circle cx="172.83" cy="297.98" r="0.5"/><circle cx="173.27" cy="306.42" r="0.5"/><circle cx="176.57" cy="293.22" r="0.5"/></g>
<g fill="#444" opacity="0.6"><circle cx="172.27" cy="302.09" r="0.5"/><circle cx="172.58" cy="304.36" r="0.5"/><circle cx="174.54" cy="302.36" r="0.5"/><circle cx="171.32" cy="303.77" r="0.5"/><circle cx="173.33" cy="305.10" r="0.5"/><circle cx="176.54" cy="306.21" r="0.5"/><circle cx="174.14" cy="305.56" r="0.5"/><circle cx="175.02" cy="300.49" r="0.5"/><circle cx="176.25" cy="307.02" r="0.5"/><circle cx="176.11" cy="307.18" r="0.5"/><circle cx="173.46" cy="303.59" r="0.5"/><circle cx="171.87" cy="305.71" r="0.5"/><circle cx="171.64" cy="300.61" r="0.5"/><circle cx="172.45" cy="301.46" r="0.5"/><circle cx="173.17" cy="300.47" r="0.5"/><circle cx="171.30" cy="301.36" r="0.5"/><circle cx="171.86" cy="303.27" r="0.5"/><circle cx="171.44" cy="307.87" r="0.5"/><circle cx="174.68" cy="301.34" r="0.5"/><circle cx="172.69" cy="303.13" r="0.5"/><circle cx="173.30" cy="301.11" r="0.5"/><circle cx="175.97" cy="308.94" r="0.5"/><circle cx="173.86" cy="304.35" r="0.5"/><circle cx="171.77" cy="300.92" r="0.5"/><circle cx="173.18" cy="302.38" r="0.5"/></g>
<ellipse cx="174.8" cy="286.1" rx="5.00" ry="1.60" fill="#666" opacity="0.95" filter="url(#bl2)" transform="rotate(0 174.8 286.1)"/>
<g fill="#333" opacity="0.6"><circle cx="174.73" cy="285.68" r="0.55"/><circle cx="180.32" cy="286.38" r="0.55"/><circle cx="172.56" cy="286.02" r="0.55"/><circle cx="173.41" cy="286.05" r="0.55"/><circle cx="166.91" cy="285.71" r="0.55"/><circle cx="176.62" cy="285.17" r="0.55"/><circle cx="173.83" cy="286.86" r="0.55"/><circle cx="176.23" cy="287.29" r="0.55"/><circle cx="169.58" cy="285.82" r="0.55"/><circle cx="173.11" cy="286.60" r="0.55"/><circle cx="176.84" cy="283.95" r="0.55"/><circle cx="176.83" cy="284.94" r="0.55"/><circle cx="175.78" cy="284.91" r="0.55"/><circle cx="174.46" cy="287.06" r="0.55"/><circle cx="173.61" cy="286.25" r="0.55"/><circle cx="176.07" cy="286.21" r="0.55"/><circle cx="173.77" cy="287.33" r="0.55"/><circle cx="176.73" cy="285.86" r="0.55"/><circle cx="181.14" cy="285.18" r="0.55"/><circle cx="176.38" cy="285.89" r="0.55"/><circle cx="174.34" cy="286.66" r="0.55"/><circle cx="174.58" cy="286.61" r="0.55"/><circle cx="170.03" cy="284.89" r="0.55"/><circle cx="175.60" cy="285.33" r="0.55"/><circle cx="171.33" cy="284.92" r="0.55"/><circle cx="177.29" cy="286.70" r="0.55"/><circle cx="177.83" cy="285.35" r="0.55"/><circle cx="174.00" cy="285.19" r="0.55"/><circle cx="175.99" cy="287.37" r="0.55"/><circle cx="171.69" cy="287.35" r="0.55"/></g>
<ellipse cx="173.4" cy="312.0" rx="4.60" ry="4.20" fill="#999" opacity="0.6" filter="url(#bl2)" transform="rotate(0 173.4 312.0)"/>
<ellipse cx="173.4" cy="312.4" rx="5.00" ry="4.42" fill="#777" opacity="0.45" filter="url(#bl2)" transform="rotate(0 173.4 312.4)"/>
<ellipse cx="173.4" cy="312.4" rx="4.00" ry="3.60" fill="#000" opacity="1" filter="url(#bl)" transform="rotate(0 173.4 312.4)"/>
<g fill="#999" opacity="0.5"><circle cx="219.79" cy="297.82" r="0.5"/><circle cx="215.51" cy="308.02" r="0.5"/><circle cx="217.94" cy="293.65" r="0.5"/><circle cx="213.45" cy="293.30" r="0.5"/><circle cx="219.29" cy="305.42" r="0.5"/><circle cx="213.60" cy="305.79" r="0.5"/><circle cx="219.85" cy="302.66" r="0.5"/><circle cx="215.13" cy="300.65" r="0.5"/><circle cx="213.48" cy="290.76" r="0.5"/><circle cx="219.78" cy="302.52" r="0.5"/><circle cx="216.45" cy="307.77" r="0.5"/><circle cx="215.75" cy="306.63" r="0.5"/><circle cx="218.70" cy="294.40" r="0.5"/><circle cx="214.39" cy="295.92" r="0.5"/><circle cx="214.30" cy="301.35" r="0.5"/><circle cx="214.45" cy="298.25" r="0.5"/><circle cx="213.48" cy="307.34" r="0.5"/><circle cx="215.15" cy="298.98" r="0.5"/><circle cx="216.88" cy="307.23" r="0.5"/><circle cx="215.65" cy="307.48" r="0.5"/><circle cx="216.26" cy="300.34" r="0.5"/><circle cx="216.43" cy="290.85" r="0.5"/><circle cx="215.80" cy="293.89" r="0.5"/><circle cx="212.53" cy="305.28" r="0.5"/><circle cx="213.79" cy="299.26" r="0.5"/></g>
<ellipse cx="218" cy="286.5" rx="4.50" ry="1.00" fill="#bbb" opacity="0.9" filter="url(#bl2)" transform="rotate(0 218 286.5)"/>
<g fill="#777" opacity="0.6"><circle cx="216.10" cy="285.62" r="0.5"/><circle cx="215.39" cy="287.25" r="0.5"/><circle cx="213.21" cy="286.08" r="0.5"/><circle cx="218.51" cy="287.05" r="0.5"/><circle cx="216.52" cy="287.06" r="0.5"/><circle cx="216.83" cy="285.67" r="0.5"/><circle cx="213.37" cy="286.05" r="0.5"/><circle cx="218.35" cy="286.10" r="0.5"/><circle cx="214.70" cy="285.96" r="0.5"/><circle cx="213.44" cy="286.42" r="0.5"/><circle cx="214.14" cy="286.75" r="0.5"/><circle cx="211.78" cy="286.73" r="0.5"/></g>
<ellipse cx="216.6" cy="312.3" rx="2.60" ry="1.80" fill="#888" opacity="0.9" filter="url(#bl2)" transform="rotate(0 216.6 312.3)"/>
<g fill="#555" opacity="0.6"><circle cx="215.57" cy="310.16" r="0.5"/><circle cx="217.76" cy="312.00" r="0.5"/><circle cx="213.03" cy="311.34" r="0.5"/><circle cx="217.07" cy="311.80" r="0.5"/><circle cx="217.85" cy="313.12" r="0.5"/><circle cx="217.67" cy="312.66" r="0.5"/><circle cx="218.73" cy="313.03" r="0.5"/><circle cx="217.32" cy="310.01" r="0.5"/><circle cx="218.03" cy="313.74" r="0.5"/><circle cx="216.12" cy="311.78" r="0.5"/><circle cx="219.70" cy="310.37" r="0.5"/><circle cx="217.35" cy="314.97" r="0.5"/><circle cx="215.12" cy="313.06" r="0.5"/><circle cx="219.62" cy="312.17" r="0.5"/><circle cx="217.50" cy="313.29" r="0.5"/></g>
<g fill="#777" opacity="0.55"><circle cx="233.30" cy="296.10" r="0.5"/><circle cx="232.19" cy="295.76" r="0.5"/><circle cx="234.03" cy="290.82" r="0.5"/><circle cx="233.44" cy="297.77" r="0.5"/><circle cx="231.56" cy="295.97" r="0.5"/><circle cx="233.68" cy="298.95" r="0.5"/><circle cx="231.73" cy="306.75" r="0.5"/><circle cx="234.26" cy="306.53" r="0.5"/><circle cx="231.87" cy="294.88" r="0.5"/><circle cx="231.64" cy="303.35" r="0.5"/><circle cx="232.45" cy="292.64" r="0.5"/><circle cx="232.98" cy="305.54" r="0.5"/><circle cx="234.37" cy="294.77" r="0.5"/><circle cx="232.02" cy="305.67" r="0.5"/><circle cx="233.50" cy="302.06" r="0.5"/><circle cx="231.81" cy="291.45" r="0.5"/><circle cx="233.91" cy="297.52" r="0.5"/><circle cx="231.75" cy="305.98" r="0.5"/><circle cx="233.72" cy="303.73" r="0.5"/><circle cx="231.79" cy="304.63" r="0.5"/><circle cx="231.73" cy="304.74" r="0.5"/><circle cx="233.09" cy="296.10" r="0.5"/><circle cx="233.44" cy="305.79" r="0.5"/><circle cx="232.44" cy="292.63" r="0.5"/><circle cx="233.34" cy="294.43" r="0.5"/><circle cx="231.88" cy="293.16" r="0.5"/><circle cx="231.68" cy="293.83" r="0.5"/><circle cx="232.59" cy="295.53" r="0.5"/><circle cx="234.16" cy="295.28" r="0.5"/><circle cx="233.25" cy="293.44" r="0.5"/><circle cx="232.71" cy="290.80" r="0.5"/><circle cx="232.38" cy="290.75" r="0.5"/><circle cx="234.07" cy="299.59" r="0.5"/><circle cx="232.16" cy="298.33" r="0.5"/><circle cx="234.77" cy="292.25" r="0.5"/></g>
<ellipse cx="233.2" cy="299" rx="1.60" ry="8.00" fill="#ccc" opacity="0.8" filter="url(#bl2)" transform="rotate(0 233.2 299)"/>
<ellipse cx="232.2" cy="312.5" rx="4.60" ry="4.00" fill="#999" opacity="0.6" filter="url(#bl2)" transform="rotate(0 232.2 312.5)"/>
<ellipse cx="232.2" cy="312.8" rx="5.00" ry="4.03" fill="#777" opacity="0.45" filter="url(#bl2)" transform="rotate(0 232.2 312.8)"/>
<ellipse cx="232.2" cy="312.8" rx="4.00" ry="3.29" fill="#000" opacity="1" filter="url(#bl)" transform="rotate(0 232.2 312.8)"/>
<ellipse cx="231.0" cy="287.2" rx="1.30" ry="1.30" fill="#000" opacity="1" filter="url(#bl)" transform="rotate(0 231.0 287.2)"/>
<ellipse cx="173.2" cy="338.6" rx="4.20" ry="6.00" fill="#aaa" opacity="0.6" filter="url(#bl2)" transform="rotate(0 173.2 338.6)"/>
<ellipse cx="172.6" cy="339.7" rx="4.46" ry="6.24" fill="#777" opacity="0.45" filter="url(#bl2)" transform="rotate(0 172.6 339.7)"/>
<ellipse cx="172.6" cy="339.7" rx="3.56" ry="5.09" fill="#000" opacity="1" filter="url(#bl)" transform="rotate(0 172.6 339.7)"/>
<ellipse cx="172.8" cy="353.8" rx="4.20" ry="5.00" fill="#aaa" opacity="0.6" filter="url(#bl2)" transform="rotate(0 172.8 353.8)"/>
<ellipse cx="172.6" cy="354.9" rx="4.46" ry="4.94" fill="#777" opacity="0.45" filter="url(#bl2)" transform="rotate(0 172.6 354.9)"/>
<ellipse cx="172.6" cy="354.9" rx="3.56" ry="4.03" fill="#000" opacity="1" filter="url(#bl)" transform="rotate(0 172.6 354.9)"/>
<ellipse cx="216.8" cy="339.5" rx="3.20" ry="2.00" fill="#ccc" opacity="0.9" filter="url(#bl2)" transform="rotate(0 216.8 339.5)"/>
<g fill="#aaa" opacity="0.6"><circle cx="217.69" cy="338.34" r="0.5"/><circle cx="213.01" cy="339.57" r="0.5"/><circle cx="214.94" cy="340.39" r="0.5"/><circle cx="214.63" cy="336.35" r="0.5"/><circle cx="214.72" cy="341.39" r="0.5"/><circle cx="216.04" cy="337.86" r="0.5"/><circle cx="215.27" cy="340.13" r="0.5"/><circle cx="217.79" cy="339.71" r="0.5"/><circle cx="219.77" cy="340.35" r="0.5"/><circle cx="216.76" cy="340.22" r="0.5"/><circle cx="220.11" cy="340.67" r="0.5"/><circle cx="218.85" cy="338.20" r="0.5"/></g>
<ellipse cx="215.6" cy="354.6" rx="3.00" ry="3.00" fill="#888" opacity="0.95" filter="url(#bl2)" transform="rotate(0 215.6 354.6)"/>
<g fill="#777" opacity="0.6"><circle cx="215.30" cy="356.06" r="0.5"/><circle cx="215.01" cy="356.74" r="0.5"/><circle cx="216.79" cy="356.42" r="0.5"/><circle cx="215.18" cy="359.69" r="0.5"/><circle cx="218.08" cy="354.17" r="0.5"/><circle cx="215.78" cy="359.79" r="0.5"/><circle cx="214.91" cy="356.35" r="0.5"/><circle cx="217.56" cy="354.61" r="0.5"/><circle cx="213.27" cy="354.98" r="0.5"/><circle cx="216.32" cy="356.86" r="0.5"/><circle cx="217.17" cy="354.65" r="0.5"/><circle cx="217.31" cy="355.68" r="0.5"/><circle cx="216.01" cy="354.71" r="0.5"/><circle cx="215.11" cy="355.97" r="0.5"/><circle cx="213.49" cy="353.34" r="0.5"/><circle cx="215.61" cy="351.67" r="0.5"/><circle cx="214.73" cy="350.58" r="0.5"/><circle cx="214.23" cy="355.74" r="0.5"/></g>
<path d="M237.8,331.8 C234.8,333.4 230.6,336.6 228.8,340.6 C227.8,342.8 227.8,345.4 229.6,345.4 C231.8,345.2 233.4,341.8 234.8,338.8 C236.0,336.2 237.2,334.0 237.8,331.8 Z" fill="#000" filter="url(#bl)"/>
<ellipse cx="232.3" cy="353.8" rx="3.20" ry="4.60" fill="#aaa" opacity="0.6" filter="url(#bl2)" transform="rotate(0 232.3 353.8)"/>
<ellipse cx="232.3" cy="354.7" rx="3.38" ry="5.07" fill="#777" opacity="0.45" filter="url(#bl2)" transform="rotate(0 232.3 354.7)"/>
<ellipse cx="232.3" cy="354.7" rx="2.70" ry="4.13" fill="#000" opacity="1" filter="url(#bl)" transform="rotate(0 232.3 354.7)"/>
<ellipse cx="173.0" cy="389.5" rx="3.40" ry="3.50" fill="#aaa" opacity="0.7" filter="url(#bl2)" transform="rotate(0 173.0 389.5)"/>
<g fill="#888" opacity="0.6"><circle cx="174.02" cy="387.42" r="0.5"/><circle cx="172.58" cy="385.52" r="0.5"/><circle cx="176.29" cy="388.22" r="0.5"/><circle cx="174.97" cy="386.26" r="0.5"/><circle cx="172.67" cy="384.95" r="0.5"/><circle cx="174.40" cy="388.81" r="0.5"/><circle cx="169.58" cy="387.43" r="0.5"/><circle cx="174.13" cy="385.03" r="0.5"/><circle cx="169.71" cy="386.01" r="0.5"/><circle cx="171.87" cy="385.54" r="0.5"/></g>
<ellipse cx="173.0" cy="392.3" rx="3.65" ry="3.64" fill="#777" opacity="0.45" filter="url(#bl2)" transform="rotate(0 173.0 392.3)"/>
<ellipse cx="173.0" cy="392.3" rx="2.92" ry="2.97" fill="#000" opacity="1" filter="url(#bl)" transform="rotate(0 173.0 392.3)"/>
<ellipse cx="172.8" cy="399.2" rx="4.86" ry="4.42" fill="#777" opacity="0.45" filter="url(#bl2)" transform="rotate(0 172.8 399.2)"/>
<ellipse cx="172.8" cy="399.2" rx="3.89" ry="3.60" fill="#000" opacity="1" filter="url(#bl)" transform="rotate(0 172.8 399.2)"/>
<ellipse cx="215.8" cy="390.0" rx="2.00" ry="2.40" fill="#ccc" opacity="0.8" filter="url(#bl2)" transform="rotate(0 215.8 390.0)"/>
<g fill="#aaa" opacity="0.6"><circle cx="215.84" cy="390.40" r="0.5"/><circle cx="216.62" cy="391.12" r="0.5"/><circle cx="217.75" cy="391.86" r="0.5"/><circle cx="214.09" cy="389.19" r="0.5"/><circle cx="214.42" cy="388.28" r="0.5"/><circle cx="215.69" cy="390.01" r="0.5"/><circle cx="216.44" cy="387.46" r="0.5"/><circle cx="214.19" cy="389.96" r="0.5"/><circle cx="215.54" cy="389.50" r="0.5"/><circle cx="215.72" cy="388.78" r="0.5"/></g>
<ellipse cx="216.0" cy="398.4" rx="3.20" ry="2.60" fill="#666" opacity="0.95" filter="url(#bl2)" transform="rotate(0 216.0 398.4)"/>
<g fill="#444" opacity="0.6"><circle cx="217.26" cy="398.90" r="0.5"/><circle cx="215.84" cy="397.46" r="0.5"/><circle cx="215.69" cy="394.59" r="0.5"/><circle cx="214.23" cy="398.45" r="0.5"/><circle cx="213.29" cy="398.68" r="0.5"/><circle cx="216.27" cy="396.47" r="0.5"/><circle cx="215.55" cy="397.96" r="0.5"/><circle cx="216.83" cy="399.26" r="0.5"/><circle cx="215.93" cy="397.21" r="0.5"/><circle cx="215.74" cy="398.31" r="0.5"/><circle cx="217.32" cy="398.81" r="0.5"/><circle cx="214.70" cy="396.50" r="0.5"/><circle cx="215.33" cy="397.36" r="0.5"/><circle cx="214.00" cy="398.24" r="0.5"/><circle cx="215.12" cy="398.55" r="0.5"/></g>
<ellipse cx="231.7" cy="386.0" rx="1.30" ry="1.60" fill="#666" opacity="0.9" filter="url(#bl2)" transform="rotate(0 231.7 386.0)"/>
<ellipse cx="231.8" cy="391.0" rx="2.56" ry="6.24" fill="#777" opacity="0.45" filter="url(#bl2)" transform="rotate(0 231.8 391.0)"/>
<ellipse cx="231.8" cy="391.0" rx="2.05" ry="5.09" fill="#000" opacity="1" filter="url(#bl)" transform="rotate(0 231.8 391.0)"/>
<ellipse cx="231.8" cy="398.3" rx="3.92" ry="4.16" fill="#777" opacity="0.45" filter="url(#bl2)" transform="rotate(0 231.8 398.3)"/>
<ellipse cx="231.8" cy="398.3" rx="3.13" ry="3.39" fill="#000" opacity="1" filter="url(#bl)" transform="rotate(0 231.8 398.3)"/>
<ellipse cx="172.5" cy="426.0" rx="3.40" ry="3.20" fill="#aaa" opacity="0.8" filter="url(#bl2)" transform="rotate(0 172.5 426.0)"/>
<ellipse cx="172.5" cy="423.9" rx="4.05" ry="2.86" fill="#777" opacity="0.45" filter="url(#bl2)" transform="rotate(0 172.5 423.9)"/>
<ellipse cx="172.5" cy="423.9" rx="3.24" ry="2.33" fill="#000" opacity="1" filter="url(#bl)" transform="rotate(0 172.5 423.9)"/>
<ellipse cx="172.7" cy="438.0" rx="4.60" ry="5.60" fill="#aaa" opacity="0.6" filter="url(#bl2)" transform="rotate(0 172.7 438.0)"/>
<ellipse cx="172.7" cy="439.5" rx="5.13" ry="5.20" fill="#777" opacity="0.45" filter="url(#bl2)" transform="rotate(0 172.7 439.5)"/>
<ellipse cx="172.7" cy="439.5" rx="4.10" ry="4.24" fill="#000" opacity="1" filter="url(#bl)" transform="rotate(0 172.7 439.5)"/>
<ellipse cx="215.4" cy="424.8" rx="2.00" ry="2.00" fill="#bbb" opacity="0.8" filter="url(#bl2)" transform="rotate(0 215.4 424.8)"/>
<g fill="#999" opacity="0.6"><circle cx="216.03" cy="424.22" r="0.5"/><circle cx="218.19" cy="424.35" r="0.5"/><circle cx="216.72" cy="424.97" r="0.5"/><circle cx="216.74" cy="421.47" r="0.5"/><circle cx="214.50" cy="425.15" r="0.5"/><circle cx="216.12" cy="428.07" r="0.5"/><circle cx="215.79" cy="426.59" r="0.5"/><circle cx="216.32" cy="426.13" r="0.5"/><circle cx="216.01" cy="424.58" r="0.5"/><circle cx="216.01" cy="423.29" r="0.5"/><circle cx="216.82" cy="423.38" r="0.5"/><circle cx="215.70" cy="427.77" r="0.5"/></g>
<g fill="#999" opacity="0.5"><circle cx="215.66" cy="431.61" r="0.5"/><circle cx="212.52" cy="433.71" r="0.5"/><circle cx="215.43" cy="432.86" r="0.5"/><circle cx="213.41" cy="433.05" r="0.5"/><circle cx="214.55" cy="435.28" r="0.5"/><circle cx="212.51" cy="434.88" r="0.5"/><circle cx="217.95" cy="432.04" r="0.5"/><circle cx="218.52" cy="434.71" r="0.5"/><circle cx="218.36" cy="432.80" r="0.5"/><circle cx="214.92" cy="433.27" r="0.5"/><circle cx="218.99" cy="434.15" r="0.5"/><circle cx="214.84" cy="433.43" r="0.5"/></g>
<ellipse cx="215.4" cy="440.0" rx="3.30" ry="3.70" fill="#555" opacity="0.95" filter="url(#bl2)" transform="rotate(0 215.4 440.0)"/>
<g fill="#444" opacity="0.6"><circle cx="215.30" cy="440.62" r="0.5"/><circle cx="218.45" cy="442.26" r="0.5"/><circle cx="214.36" cy="444.57" r="0.5"/><circle cx="215.41" cy="441.57" r="0.5"/><circle cx="214.11" cy="439.91" r="0.5"/><circle cx="211.90" cy="443.57" r="0.5"/><circle cx="218.13" cy="437.57" r="0.5"/><circle cx="212.39" cy="436.76" r="0.5"/><circle cx="217.75" cy="439.08" r="0.5"/><circle cx="215.28" cy="439.37" r="0.5"/><circle cx="215.16" cy="437.82" r="0.5"/><circle cx="215.45" cy="437.12" r="0.5"/><circle cx="215.26" cy="440.62" r="0.5"/><circle cx="216.34" cy="439.54" r="0.5"/><circle cx="213.59" cy="440.32" r="0.5"/><circle cx="214.43" cy="443.13" r="0.5"/><circle cx="216.94" cy="439.77" r="0.5"/><circle cx="214.46" cy="438.59" r="0.5"/><circle cx="213.53" cy="439.29" r="0.5"/><circle cx="215.99" cy="441.03" r="0.5"/></g>
<ellipse cx="231.3" cy="424.8" rx="2.03" ry="6.24" fill="#777" opacity="0.45" filter="url(#bl2)" transform="rotate(36 231.3 424.8)"/>
<ellipse cx="231.3" cy="424.8" rx="1.62" ry="5.09" fill="#000" opacity="1" filter="url(#bl)" transform="rotate(36 231.3 424.8)"/>
<ellipse cx="231.7" cy="440.0" rx="3.92" ry="5.20" fill="#777" opacity="0.45" filter="url(#bl2)" transform="rotate(0 231.7 440.0)"/>
<ellipse cx="231.7" cy="440.0" rx="3.13" ry="4.24" fill="#000" opacity="1" filter="url(#bl)" transform="rotate(0 231.7 440.0)"/>
<text transform="translate(161.802,305.450) rotate(-90) scale(0.9514,1.0668)" font-size="9.4" fill="#111" >Gr-1</text>
<text transform="translate(161.605,351.174) rotate(-90) scale(1.0041,1.0368)" font-size="9.4" fill="#111" >B220</text>
<text transform="translate(161.308,400.912) rotate(-90) scale(1.0059,1.0067)" font-size="9.4" fill="#111" >Ter119</text>
<text transform="translate(161.806,435.381) rotate(-90) scale(1.0082,1.0217)" font-size="9.4" fill="#111" >CD4</text>
<text transform="translate(187.706,283.824) scale(0.9909,1.0221)" font-size="7.6" fill="#111" >0</text>
<text transform="translate(187.706,331.474) scale(0.9909,1.0221)" font-size="7.6" fill="#111" >0</text>
<text transform="translate(187.706,376.274) scale(0.9909,1.0221)" font-size="7.6" fill="#111" >0</text>
<text transform="translate(187.706,418.974) scale(0.9909,1.0221)" font-size="7.6" fill="#111" >0</text>
<text transform="translate(230.621,283.823) scale(0.9348,1.0012)" font-size="7.9" fill="#111" >70±3%</text>
<text transform="translate(231.177,331.121) scale(0.8728,1.0191)" font-size="7.9" fill="#111" >97±0.4%</text>
<text transform="translate(230.981,375.823) scale(0.9282,1.0012)" font-size="7.9" fill="#111" >84±4%</text>
<text transform="translate(230.981,418.623) scale(0.9282,1.0012)" font-size="7.9" fill="#111" >89±2%</text>
<line x1="161.2" y1="452.9" x2="243" y2="452.9" stroke="#000" stroke-width="2.2"/>
<polygon points="242.3,450.3 248.6,452.9 242.3,455.5" fill="#000"/>
<text transform="translate(185.470,466.574) scale(0.9918,1.0282)" font-size="12.5" fill="#111" >CD45.1</text>
<text transform="translate(264.079,249.500) scale(1.0472,1.1083)" font-size="16" fill="#111" ><tspan font-weight="bold">E</tspan></text>
<line x1="307.4" y1="270.2" x2="307.4" y2="418.4" stroke="#111" stroke-width="1.4"/>
<line x1="304.3" y1="283.3" x2="307.4" y2="283.3" stroke="#111" stroke-width="1.3"/>
<line x1="304.3" y1="309.0" x2="307.4" y2="309.0" stroke="#111" stroke-width="1.3"/>
<line x1="304.3" y1="334.7" x2="307.4" y2="334.7" stroke="#111" stroke-width="1.3"/>
<line x1="304.3" y1="360.5" x2="307.4" y2="360.5" stroke="#111" stroke-width="1.3"/>
<line x1="304.3" y1="386.2" x2="307.4" y2="386.2" stroke="#111" stroke-width="1.3"/>
<line x1="304.3" y1="411.9" x2="307.4" y2="411.9" stroke="#111" stroke-width="1.3"/>
<line x1="305.8" y1="270.44000000000005" x2="307.4" y2="270.44000000000005" stroke="#111" stroke-width="1.2"/>
<line x1="305.8" y1="296.16" x2="307.4" y2="296.16" stroke="#111" stroke-width="1.2"/>
<line x1="305.8" y1="321.88" x2="307.4" y2="321.88" stroke="#111" stroke-width="1.2"/>
<line x1="305.8" y1="347.6" x2="307.4" y2="347.6" stroke="#111" stroke-width="1.2"/>
<line x1="305.8" y1="373.32" x2="307.4" y2="373.32" stroke="#111" stroke-width="1.2"/>
<line x1="305.8" y1="399.03999999999996" x2="307.4" y2="399.03999999999996" stroke="#111" stroke-width="1.2"/>
<text transform="translate(284.432,285.568) scale(0.8504,1.0119)" font-size="13.4" fill="#111" >100</text>
<text transform="translate(289.006,312.066) scale(0.8479,1.0224)" font-size="13.4" fill="#111" >80</text>
<text transform="translate(288.604,338.062) scale(0.8758,1.0540)" font-size="13.4" fill="#111" >60</text>
<text transform="translate(288.938,364.372) scale(0.8526,0.9803)" font-size="13.4" fill="#111" >40</text>
<text transform="translate(289.135,390.273) scale(0.8390,0.9697)" font-size="13.4" fill="#111" >20</text>
<text transform="translate(294.042,416.668) scale(0.8742,1.0119)" font-size="13.4" fill="#111" >0</text>
<text transform="translate(281.144,423.969) rotate(-90) scale(0.9971,0.9971)" font-size="16" fill="#111" >% Donor Chimerism</text>
<line x1="306.7" y1="418.4" x2="506.2" y2="418.4" stroke="#111" stroke-width="1.4"/>
<line x1="322.5" y1="418.4" x2="322.5" y2="422.0" stroke="#111" stroke-width="1.3"/>
<line x1="338.4" y1="418.4" x2="338.4" y2="422.0" stroke="#111" stroke-width="1.3"/>
<line x1="353.3" y1="418.4" x2="353.3" y2="422.0" stroke="#111" stroke-width="1.3"/>
<line x1="368.5" y1="418.4" x2="368.5" y2="422.0" stroke="#111" stroke-width="1.3"/>
<line x1="383.6" y1="418.4" x2="383.6" y2="422.0" stroke="#111" stroke-width="1.3"/>
<line x1="399.4" y1="418.4" x2="399.4" y2="422.0" stroke="#111" stroke-width="1.3"/>
<line x1="414.3" y1="418.4" x2="414.3" y2="422.0" stroke="#111" stroke-width="1.3"/>
<line x1="429.5" y1="418.4" x2="429.5" y2="422.0" stroke="#111" stroke-width="1.3"/>
<line x1="444.9" y1="418.4" x2="444.9" y2="422.0" stroke="#111" stroke-width="1.3"/>
<line x1="460.1" y1="418.4" x2="460.1" y2="422.0" stroke="#111" stroke-width="1.3"/>
<line x1="475.5" y1="418.4" x2="475.5" y2="422.0" stroke="#111" stroke-width="1.3"/>
<line x1="490.4" y1="418.4" x2="490.4" y2="422.0" stroke="#111" stroke-width="1.3"/>
<line x1="506" y1="418.4" x2="506" y2="422.0" stroke="#111" stroke-width="1.3"/>
<text transform="translate(261.714,445.598) scale(1.0103,0.9892)" font-size="10.6" fill="#111" >STAT5ab</text>
<text transform="translate(324.000,433.800) rotate(-45)" font-size="9.3" text-anchor="end" fill="#111" >+/+</text>
<text transform="translate(342.430,430.000) rotate(-45)" font-size="8.6" text-anchor="end" fill="#111" >ΔN/ΔN</text>
<text transform="translate(359.360,428.700) rotate(-45)" font-size="9.3" text-anchor="end" fill="#111" >null/null</text>
<text transform="translate(372.390,433.800) rotate(-45)" font-size="9.3" text-anchor="end" fill="#111" >+/+</text>
<text transform="translate(388.920,430.000) rotate(-45)" font-size="8.6" text-anchor="end" fill="#111" >ΔN/ΔN</text>
<text transform="translate(404.150,428.700) rotate(-45)" font-size="9.3" text-anchor="end" fill="#111" >null/null</text>
<text transform="translate(415.980,433.800) rotate(-45)" font-size="9.3" text-anchor="end" fill="#111" >+/+</text>
<text transform="translate(431.910,430.000) rotate(-45)" font-size="8.6" text-anchor="end" fill="#111" >ΔN/ΔN</text>
<text transform="translate(447.940,428.700) rotate(-45)" font-size="9.3" text-anchor="end" fill="#111" >null/null</text>
<text transform="translate(461.970,433.800) rotate(-45)" font-size="9.3" text-anchor="end" fill="#111" >+/+</text>
<text transform="translate(477.600,430.000) rotate(-45)" font-size="8.6" text-anchor="end" fill="#111" >ΔN/ΔN</text>
<text transform="translate(492.930,428.700) rotate(-45)" font-size="9.3" text-anchor="end" fill="#111" >null/null</text>
<line x1="313.1" y1="454.9" x2="346.5" y2="454.9" stroke="#111" stroke-width="1.9"/>
<text transform="translate(314.013,466.406) scale(1.0083,0.9479)" font-size="10.2" fill="#111" >Overall</text>
<line x1="358.5" y1="454.9" x2="391.9" y2="454.9" stroke="#111" stroke-width="1.9"/>
<text transform="translate(367.526,466.402) scale(0.9232,0.9832)" font-size="10.2" fill="#111" >Gr-1</text>
<line x1="403.5" y1="454.9" x2="438" y2="454.9" stroke="#111" stroke-width="1.9"/>
<text transform="translate(407.092,466.402) scale(0.9652,0.9832)" font-size="10.2" fill="#111" >B220</text>
<line x1="449.3" y1="454.9" x2="482.9" y2="454.9" stroke="#111" stroke-width="1.9"/>
<text transform="translate(456.603,466.402) scale(0.9598,0.9832)" font-size="10.2" fill="#111" >CD4</text>
<circle cx="337.9" cy="298.5" r="1.9" fill="#8c8c8c"/>
<circle cx="334.8" cy="303.1" r="1.9" fill="#8c8c8c"/>
<circle cx="337.9" cy="308.8" r="1.9" fill="#8c8c8c"/>
<circle cx="341.2" cy="307.1" r="1.9" fill="#8c8c8c"/>
<circle cx="341.2" cy="320.4" r="1.9" fill="#8c8c8c"/>
<circle cx="334.8" cy="325" r="1.9" fill="#8c8c8c"/>
<circle cx="337.9" cy="325.8" r="1.9" fill="#8c8c8c"/>
<circle cx="380.6" cy="285" r="1.9" fill="#8c8c8c"/>
<circle cx="382.5" cy="286.3" r="1.9" fill="#8c8c8c"/>
<circle cx="384.4" cy="286" r="1.9" fill="#8c8c8c"/>
<circle cx="386.9" cy="288.3" r="1.9" fill="#8c8c8c"/>
<circle cx="385.4" cy="296" r="1.9" fill="#8c8c8c"/>
<circle cx="383.5" cy="299.8" r="1.9" fill="#8c8c8c"/>
<circle cx="429.6" cy="297.3" r="1.9" fill="#8c8c8c"/>
<circle cx="432.7" cy="304.2" r="1.9" fill="#8c8c8c"/>
<circle cx="431.2" cy="306.5" r="1.9" fill="#8c8c8c"/>
<circle cx="428.3" cy="307.5" r="1.9" fill="#8c8c8c"/>
<circle cx="426.7" cy="317.7" r="1.9" fill="#8c8c8c"/>
<circle cx="432.7" cy="324.4" r="1.9" fill="#8c8c8c"/>
<circle cx="429.6" cy="337.7" r="1.9" fill="#8c8c8c"/>
<circle cx="475.4" cy="296.3" r="1.9" fill="#8c8c8c"/>
<circle cx="478.7" cy="299.8" r="1.9" fill="#8c8c8c"/>
<circle cx="472.5" cy="304.6" r="1.9" fill="#8c8c8c"/>
<circle cx="475.4" cy="306.9" r="1.9" fill="#8c8c8c"/>
<circle cx="472.5" cy="314.6" r="1.9" fill="#8c8c8c"/>
<circle cx="472.5" cy="335.8" r="1.9" fill="#8c8c8c"/>
<circle cx="475.4" cy="335.8" r="1.9" fill="#8c8c8c"/>
<circle cx="353.3" cy="287.9" r="1.9" fill="#000"/>
<circle cx="356.5" cy="290.6" r="1.9" fill="#000"/>
<circle cx="353.3" cy="301.2" r="1.9" fill="#000"/>
<circle cx="356.5" cy="305" r="1.9" fill="#000"/>
<circle cx="353.3" cy="309.8" r="1.9" fill="#000"/>
<circle cx="395.6" cy="286.7" r="1.9" fill="#000"/>
<circle cx="398.8" cy="283.5" r="1.9" fill="#000"/>
<circle cx="400.4" cy="286.3" r="1.9" fill="#000"/>
<circle cx="402.3" cy="292.1" r="1.9" fill="#000"/>
<circle cx="444.6" cy="287.7" r="1.9" fill="#000"/>
<circle cx="448.1" cy="288.3" r="1.9" fill="#000"/>
<circle cx="441.7" cy="301.2" r="1.9" fill="#000"/>
<circle cx="448.1" cy="299.8" r="1.9" fill="#000"/>
<circle cx="445" cy="304.2" r="1.9" fill="#000"/>
<circle cx="493.7" cy="289.6" r="1.9" fill="#000"/>
<circle cx="490.8" cy="298.8" r="1.9" fill="#000"/>
<circle cx="493.7" cy="309" r="1.9" fill="#000"/>
<circle cx="490.8" cy="330" r="1.9" fill="#000"/>
<circle cx="490.8" cy="340.2" r="1.9" fill="#000"/>
<circle cx="319.8" cy="410.3" r="1.9" fill="none" stroke="#777" stroke-width="0.8"/>
<circle cx="323" cy="410.8" r="1.9" fill="none" stroke="#777" stroke-width="0.8"/>
<circle cx="325.9" cy="409.2" r="1.9" fill="none" stroke="#777" stroke-width="0.8"/>
<circle cx="325.5" cy="412" r="1.9" fill="none" stroke="#777" stroke-width="0.8"/>
<circle cx="368.5" cy="402.9" r="1.9" fill="none" stroke="#777" stroke-width="0.8"/>
<circle cx="365.5" cy="409.6" r="1.9" fill="none" stroke="#777" stroke-width="0.8"/>
<circle cx="368.7" cy="408.6" r="1.9" fill="none" stroke="#777" stroke-width="0.8"/>
<circle cx="371.9" cy="409.6" r="1.9" fill="none" stroke="#777" stroke-width="0.8"/>
<circle cx="365.9" cy="412.2" r="1.9" fill="none" stroke="#777" stroke-width="0.8"/>
<circle cx="368.9" cy="411.4" r="1.9" fill="none" stroke="#777" stroke-width="0.8"/>
<circle cx="410.9" cy="410.4" r="1.9" fill="none" stroke="#777" stroke-width="0.8"/>
<circle cx="413.2" cy="409.2" r="1.9" fill="none" stroke="#777" stroke-width="0.8"/>
<circle cx="413.4" cy="411.3" r="1.9" fill="none" stroke="#777" stroke-width="0.8"/>
<circle cx="417.4" cy="410.6" r="1.9" fill="none" stroke="#777" stroke-width="0.8"/>
<circle cx="458.5" cy="408.5" r="1.9" fill="none" stroke="#777" stroke-width="0.8"/>
<circle cx="456.9" cy="411.1" r="1.9" fill="none" stroke="#777" stroke-width="0.8"/>
<circle cx="460.2" cy="411.1" r="1.9" fill="none" stroke="#777" stroke-width="0.8"/>
<circle cx="463.2" cy="410.8" r="1.9" fill="none" stroke="#777" stroke-width="0.8"/>
</svg>
</body></html>
